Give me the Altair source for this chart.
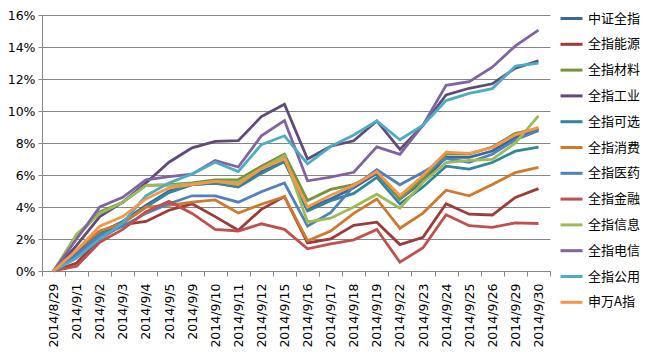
import altair as alt
import pandas as pd

dates = ["2014/8/29", "2014/9/1", "2014/9/2", "2014/9/3", "2014/9/4", "2014/9/5",
         "2014/9/9", "2014/9/10", "2014/9/11", "2014/9/12", "2014/9/15", "2014/9/16",
         "2014/9/17", "2014/9/18", "2014/9/19", "2014/9/22", "2014/9/23", "2014/9/24",
         "2014/9/25", "2014/9/26", "2014/9/29", "2014/9/30"]

series_names = ["中证全指", "全指能源", "全指材料", "全指工业", "全指可选", "全指消费",
                "全指医药", "全指金融", "全指信息", "全指电信", "全指公用", "申万A指"]

csi_all = [0, 1.2, 2.4, 3.1, 4.1, 5.0, 5.4, 5.5, 5.3, 6.2, 6.85, 3.9, 4.5, 5.2, 6.1, 4.5, 5.6, 7.1, 7.1, 7.5, 8.35, 8.85]
energy = [0, 0.5, 2.0, 2.9, 3.1, 3.8, 4.2, 3.4, 2.55, 3.85, 4.65, 1.75, 2.0, 2.85, 3.05, 1.65, 2.1, 4.2, 3.55, 3.5, 4.6, 5.15]
materials = [0, 2.1, 3.7, 4.3, 5.35, 5.4, 5.5, 5.7, 5.7, 6.55, 7.3, 4.4, 5.1, 5.4, 6.2, 4.5, 5.8, 7.3, 7.3, 7.75, 8.6, 8.9]
industrials = [0, 1.6, 3.4, 4.3, 5.5, 6.8, 7.7, 8.1, 8.15, 9.65, 10.42, 7.0, 7.8, 8.14, 9.38, 7.6, 9.1, 11.0, 11.42, 11.7, 12.68, 13.13]
discretionary = [0, 1.0, 2.3, 3.0, 4.0, 4.9, 5.4, 5.5, 5.25, 6.1, 6.85, 3.75, 4.4, 4.85, 5.85, 4.2, 5.25, 6.55, 6.37, 6.78, 7.49, 7.74]
staples = [0, 1.3, 2.5, 3.0, 4.0, 4.1, 4.3, 4.44, 3.62, 4.17, 4.64, 1.89, 2.5, 3.6, 4.5, 2.67, 3.62, 5.05, 4.7, 5.4, 6.15, 6.47]
healthcare = [0, 1.0, 2.2, 2.8, 3.6, 4.2, 4.7, 4.7, 4.3, 4.95, 5.5, 2.81, 3.65, 5.3, 6.33, 5.39, 6.17, 7.02, 6.8, 7.3, 8.2, 8.77]
financials = [0, 0.3, 1.8, 2.6, 3.7, 4.35, 3.6, 2.6, 2.5, 2.95, 2.6, 1.39, 1.7, 1.95, 2.6, 0.55, 1.45, 3.52, 2.83, 2.73, 3.01, 2.97]
it = [0, 2.3, 3.6, 4.3, 5.35, 5.35, 5.45, 5.6, 5.55, 6.4, 7.2, 3.07, 3.3, 4.0, 4.8, 3.93, 5.55, 6.78, 6.92, 6.98, 8.0, 9.69]
telecom = [0, 2.0, 4.0, 4.6, 5.7, 5.9, 6.05, 6.9, 6.5, 8.45, 9.4, 5.64, 5.86, 6.17, 7.76, 7.29, 9.12, 11.6, 11.83, 12.74, 14.07, 15.06]
utilities = [0, 0.8, 2.0, 3.0, 4.7, 5.5, 6.07, 6.8, 6.21, 7.9, 8.45, 6.7, 7.78, 8.5, 9.38, 8.2, 9.12, 10.65, 11.1, 11.4, 12.8, 12.99]
sw_a = [0, 1.3, 2.8, 3.4, 4.5, 5.2, 5.4, 5.6, 5.4, 6.4, 7.0, 4.0, 4.74, 5.35, 6.21, 4.7, 5.97, 7.43, 7.35, 7.7, 8.51, 8.98]

colors = ["#3B679E", "#9E3A38", "#77933C", "#604A7B", "#31859C", "#D0782C",
          "#4F81BD", "#C0504D", "#9BBB59", "#8064A2", "#4BACC6", "#F79646"]

all_values = [csi_all, energy, materials, industrials, discretionary, staples,
              healthcare, financials, it, telecom, utilities, sw_a]

rows = []
for k, (name, vals) in enumerate(zip(series_names, all_values)):
    for d, v in zip(dates, vals):
        rows.append({"date": d, "series": name, "value": v, "order": k})
df = pd.DataFrame(rows)

chart = alt.Chart(df).mark_line(strokeWidth=2.8).encode(
    x=alt.X("date:N", sort=dates, bandPosition=0.5,
            scale=alt.Scale(type="band", paddingInner=0, paddingOuter=0),
            axis=alt.Axis(title=None, labelAngle=270, tickBand="extent", grid=False,
                          domainColor="#868686", tickColor="#868686", tickSize=5,
                          labelPadding=7, labelFont="DejaVu Sans", labelFontSize=12.5,
                          labelColor="black")),
    y=alt.Y("value:Q", scale=alt.Scale(domain=[0, 16], nice=False),
            axis=alt.Axis(title=None, values=[0, 2, 4, 6, 8, 10, 12, 14, 16],
                          labelExpr="datum.value + '%'", gridColor="#868686",
                          domainColor="#868686", tickColor="#868686", tickSize=4,
                          labelPadding=3, labelFont="DejaVu Sans", labelFontSize=12.5,
                          labelColor="black")),
    color=alt.Color("series:N", sort=series_names,
                    scale=alt.Scale(domain=series_names, range=colors),
                    legend=alt.Legend(title=None, orient="none", legendX=517, legendY=-9,
                                      symbolType="stroke", symbolSize=484,
                                      symbolStrokeWidth=3, rowPadding=5.8, padding=0,
                                      labelFont="Noto Sans CJK SC", labelFontSize=13,
                                      labelColor="black", labelOffset=4)),
    order=alt.Order("order:Q"),
).properties(
    width=508, height=256,
    autosize=alt.AutoSizeParams(type="none"),
    padding={"left": 34, "top": 7, "right": 92, "bottom": 78},
).configure_view(stroke=None)

chart.save("out.html", embed_options={"renderer": "svg", "actions": False})
